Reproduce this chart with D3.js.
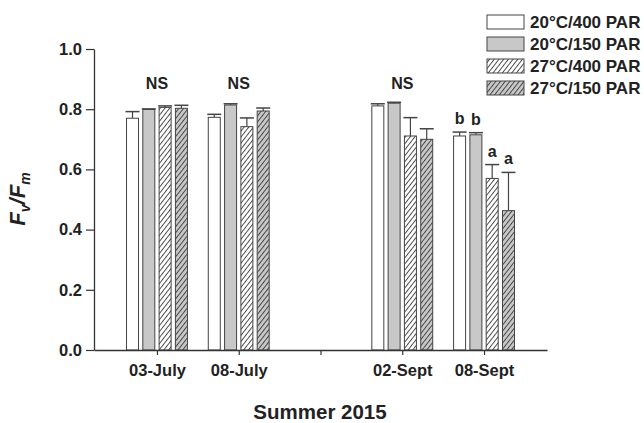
<!DOCTYPE html>
<html><head><meta charset="utf-8">
<script src="https://cdn.jsdelivr.net/npm/d3@7/dist/d3.min.js"></script>
<style>
body{margin:0;background:#fff;}
svg{display:block;font-family:"Liberation Sans",Arial,sans-serif;}
</style></head><body>
<svg id="c" width="644" height="423"></svg>
<script>
const dates = ["03-July","08-July","","02-Sept","08-Sept"];
const datePos = [1,2,4,5];
const series = ["20°C/400 PAR","20°C/150 PAR","27°C/400 PAR","27°C/150 PAR"];
const means = [
  [0.770,0.799,0.806,0.803],
  [0.773,0.814,0.742,0.794],
  [0.811,0.820,0.711,0.700],
  [0.711,0.715,0.570,0.463]
];
const errs = [
  [0.022,0.002,0.005,0.010],
  [0.010,0.004,0.029,0.010],
  [0.007,0.003,0.061,0.035],
  [0.013,0.007,0.046,0.127]
];
const groupNotes = ["NS","NS","NS",""];
const barLetters = [["","","",""],["","","",""],["","","",""],["b","b","a","a"]];
const yTicks = [0,0.2,0.4,0.6,0.8,1.0];

const svg = d3.select("#c");
const x = d3.scaleLinear().domain([0.23,5.77]).range([94,547]);
const y = d3.scaleLinear().domain([0,1]).range([350,49]);
const barW = 12, pitch = 16.3;

const defs = svg.append("defs");
function hatch(id, bg){
  const p = defs.append("pattern").attr("id",id).attr("patternUnits","userSpaceOnUse")
    .attr("width",3.7).attr("height",6).attr("patternTransform","rotate(38)");
  p.append("rect").attr("width",3.7).attr("height",6).attr("fill",bg);
  p.append("line").attr("x1",0.5).attr("y1",0).attr("x2",0.5).attr("y2",6)
    .attr("stroke","#333").attr("stroke-width",0.9);
}
hatch("h1","#ffffff");
hatch("h2","#c8c8c8");
const fills = ["#ffffff","#c8c8c8","url(#h1)","url(#h2)"];

// bars
means.forEach((g,gi)=>{
  const cx = x(datePos[gi]);
  g.forEach((v,si)=>{
    const bx = cx + (si-1.5)*pitch;
    svg.append("rect").attr("x",bx-barW/2).attr("y",y(v)).attr("width",barW)
      .attr("height",y(0)-y(v)).attr("fill",fills[si]).attr("stroke","#444").attr("stroke-width",1);
    const top = y(v+errs[gi][si]);
    svg.append("line").attr("x1",bx).attr("x2",bx).attr("y1",y(v)).attr("y2",top)
      .attr("stroke","#444").attr("stroke-width",1.2);
    svg.append("line").attr("x1",bx-7).attr("x2",bx+7).attr("y1",top).attr("y2",top)
      .attr("stroke","#444").attr("stroke-width",1.5);
    if(barLetters[gi][si]){
      svg.append("text").attr("x",bx).attr("y",top-8).attr("text-anchor","middle")
        .attr("font-weight","bold").attr("font-size",16).attr("fill","#222").text(barLetters[gi][si]);
    }
  });
  if(groupNotes[gi]){
    svg.append("text").attr("x",cx).attr("y",89).attr("text-anchor","middle")
      .attr("font-weight","bold").attr("font-size",16).attr("fill","#222").text(groupNotes[gi]);
  }
});

// axes
const xAxis = d3.axisBottom(x).tickValues([1,2,3,4,5]).tickFormat((d,i)=>dates[i]).tickSize(5).tickPadding(9).tickSizeOuter(0);
const gx = svg.append("g").attr("transform","translate(0,350)").call(xAxis);
const yAxis = d3.axisLeft(y).tickValues(yTicks).tickFormat(d3.format(".1f")).tickSize(8).tickPadding(4).tickSizeOuter(0);
const gy = svg.append("g").attr("transform","translate(94,0)").call(yAxis);
[gx,gy].forEach(g=>{
  g.select(".domain").attr("stroke","#333").attr("stroke-width",1.3);
  g.selectAll(".tick line").attr("stroke","#333").attr("stroke-width",1.2);
  g.selectAll("text").attr("font-family","Liberation Sans, Arial, sans-serif").attr("font-weight","bold")
    .attr("font-size",16.5).attr("fill","#222");
});

// axis titles
svg.append("text").attr("x",320).attr("y",419).attr("text-anchor","middle")
  .attr("font-weight","bold").attr("font-size",20.5).attr("fill","#222").text("Summer 2015");
const yt = svg.append("text").attr("transform","translate(25,199) rotate(-90)").attr("text-anchor","middle")
  .attr("font-weight","bold").attr("font-style","italic").attr("font-size",22).attr("fill","#222");
yt.append("tspan").text("F");
yt.append("tspan").attr("font-size",14).attr("dy",5).text("v");
yt.append("tspan").attr("dy",-5).text("/F");
yt.append("tspan").attr("font-size",14).attr("dy",5).text("m");

// legend
series.forEach((s,i)=>{
  const ly = 22 + i*22;
  svg.append("rect").attr("x",487).attr("y",ly-7).attr("width",37).attr("height",14)
    .attr("fill",fills[i]).attr("stroke","#444").attr("stroke-width",1);
  svg.append("text").attr("x",530).attr("y",ly+6).attr("font-weight","bold").attr("font-size",17)
    .attr("fill","#222").text(s);
});
</script>
</body></html>
